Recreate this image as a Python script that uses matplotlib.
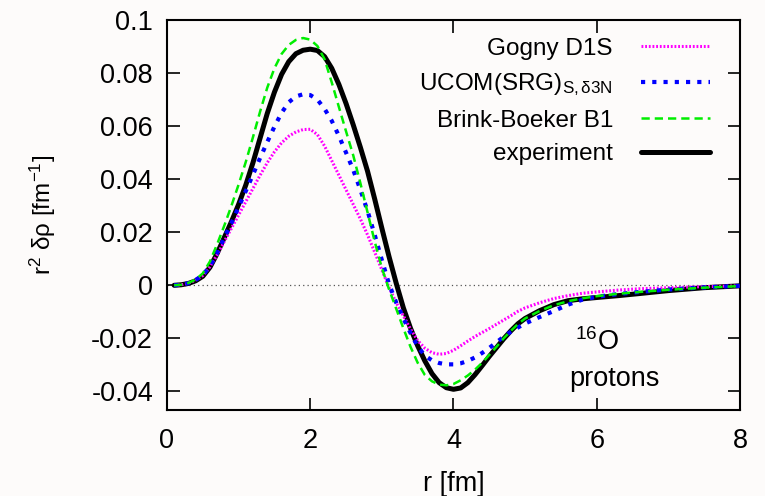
import matplotlib
matplotlib.use("Agg")
import matplotlib.pyplot as plt

plt.rcParams['font.family'] = ['Liberation Sans', 'DejaVu Sans']
plt.rcParams['mathtext.fontset'] = 'custom'
plt.rcParams['mathtext.rm'] = 'Liberation Sans'
plt.rcParams['mathtext.it'] = 'Liberation Sans:italic'
plt.rcParams['mathtext.bf'] = 'Liberation Sans:bold'

# ---------------- data ----------------
r = [0.1, 0.2, 0.3, 0.4, 0.5, 0.6, 0.7, 0.8, 0.9, 1.0,
     1.1, 1.2, 1.3, 1.4, 1.5, 1.6, 1.7, 1.8, 1.9, 2.0,
     2.1, 2.2, 2.3, 2.4, 2.5, 2.6, 2.7, 2.8, 2.9, 3.0,
     3.1, 3.2, 3.3, 3.4, 3.5, 3.6, 3.7, 3.8, 3.9, 4.0,
     4.1, 4.2, 4.3, 4.4, 4.5, 4.6, 4.7, 4.8, 4.9, 5.0,
     5.2, 5.4, 5.6, 5.8, 6.0, 6.3, 6.6, 7.0, 7.5, 8.0]

experiment = [0.0, 0.0002, 0.0007, 0.0017, 0.0034, 0.0068, 0.0120, 0.0180, 0.0240, 0.0305,
              0.0378, 0.0462, 0.0555, 0.0648, 0.0728, 0.0795, 0.0843, 0.0873, 0.0886, 0.0890,
              0.0885, 0.0862, 0.0818, 0.0757, 0.0685, 0.0605, 0.0520, 0.0430, 0.0325, 0.0215,
              0.0108, 0.0008, -0.0085, -0.0162, -0.0228, -0.0285, -0.0333, -0.0367, -0.0386, -0.0392,
              -0.0387, -0.0367, -0.0337, -0.0303, -0.0268, -0.0235, -0.0202, -0.0172, -0.0145, -0.0125,
              -0.0096, -0.0073, -0.0058, -0.0051, -0.0046, -0.0039, -0.0031, -0.0020, -0.0009, -0.0002]

brink_boeker = [0.0, 0.0002, 0.0009, 0.0022, 0.0045, 0.0090, 0.0155, 0.0225, 0.0300, 0.0380,
                0.0465, 0.0558, 0.0655, 0.0745, 0.0818, 0.0872, 0.0906, 0.0925, 0.0932, 0.0926,
                0.0902, 0.0852, 0.0765, 0.0672, 0.0580, 0.0490, 0.0385, 0.0275, 0.0165, 0.0065,
                -0.0015, -0.0088, -0.0162, -0.0232, -0.0292, -0.0338, -0.0362, -0.0374, -0.0377, -0.0372,
                -0.0358, -0.0340, -0.0318, -0.0292, -0.0262, -0.0232, -0.0200, -0.0172, -0.0146, -0.0125,
                -0.0097, -0.0075, -0.0060, -0.0049, -0.0041, -0.0032, -0.0025, -0.0017, -0.0009, -0.0003]

ucom = [0.0, 0.0002, 0.0008, 0.0020, 0.0038, 0.0072, 0.0122, 0.0180, 0.0235, 0.0295,
        0.0355, 0.0417, 0.0480, 0.0540, 0.0598, 0.0650, 0.0690, 0.0712, 0.0720, 0.0717,
        0.0700, 0.0665, 0.0620, 0.0563, 0.0500, 0.0435, 0.0360, 0.0280, 0.0190, 0.0095,
        0.0005, -0.0065, -0.0125, -0.0180, -0.0230, -0.0265, -0.0283, -0.0293, -0.0298, -0.0298,
        -0.0294, -0.0285, -0.0272, -0.0255, -0.0236, -0.0215, -0.0194, -0.0175, -0.0159, -0.0144,
        -0.0120, -0.0097, -0.0073, -0.0054, -0.0043, -0.0033, -0.0025, -0.0016, -0.0008, -0.0002]

gogny = [0.0, 0.0002, 0.0008, 0.0020, 0.0037, 0.0070, 0.0115, 0.0165, 0.0215, 0.0265,
         0.0315, 0.0365, 0.0415, 0.0462, 0.0503, 0.0537, 0.0562, 0.0578, 0.0587, 0.0588,
         0.0568, 0.0525, 0.0470, 0.0415, 0.0360, 0.0305, 0.0250, 0.0190, 0.0125, 0.0058,
         -0.0008, -0.0065, -0.0115, -0.0165, -0.0208, -0.0237, -0.0254, -0.0260, -0.0257, -0.0245,
         -0.0228, -0.0210, -0.0193, -0.0178, -0.0163, -0.0147, -0.0131, -0.0115, -0.0098, -0.0085,
         -0.0066, -0.0050, -0.0039, -0.0030, -0.0025, -0.0018, -0.0013, -0.0009, -0.0005, -0.0002]

labels = ['Gogny D1S', r'UCOM(SRG)$_{\mathrm{S,δ3N}}$', 'Brink-Boeker B1', 'experiment']
xticks = [0, 2, 4, 6, 8]
yticks = [-0.04, -0.02, 0, 0.02, 0.04, 0.06, 0.08, 0.1]
yticklabels = ['-0.04', '-0.02', '0', '0.02', '0.04', '0.06', '0.08', '0.1']

# ---------------- figure ----------------
bg = '#fdfbfa'
fig = plt.figure(figsize=(7.65, 4.96), dpi=100, facecolor=bg)
ax = fig.add_axes([0.2183, 0.1734, 0.749, 0.7863], facecolor=bg)

fs_big = 19.5
fs_leg = 17.5
ax.axhline(0, color='#555555', lw=0.9, ls=(0, (1, 2.5)), zorder=1)

l_exp, = ax.plot(r, experiment, color='black', lw=3.6, solid_capstyle='round', zorder=2)
l_gog, = ax.plot(r, gogny, color='#ff00ff', lw=2.2, ls=(0, (0.6, 0.6)), zorder=3)
l_ucom, = ax.plot(r, ucom, color='#0000ff', lw=3.0, ls=(0, (1.0, 1.7)), zorder=4)
l_bb, = ax.plot(r, brink_boeker, color='#00ee00', lw=1.8, ls=(0, (3.3, 2.0)), zorder=5)

ax.set_xlim(0, 8)
ax.set_ylim(-0.047, 0.1)
ax.set_xticks(xticks)
ax.set_xticklabels([str(v) for v in xticks])
ax.set_yticks(yticks)
ax.set_yticklabels(yticklabels)
ax.tick_params(axis='both', direction='in', length=9, width=1.2, top=True, right=True,
               labelsize=fs_big)
ax.tick_params(axis='x', pad=13)
ax.tick_params(axis='y', pad=10)
for s in ax.spines.values():
    s.set_linewidth(1.5)

ax.set_xlabel('r [fm]', fontsize=fs_big, labelpad=12)
ax.set_ylabel(r'r$^2$ δρ [fm$^{-1}$]', fontsize=fs_leg, labelpad=24)

leg = ax.legend([l_gog, l_ucom, l_bb, l_exp], labels, loc='upper right',
                bbox_to_anchor=(0.965, 0.98), frameon=False, markerfirst=False,
                fontsize=fs_leg, handlelength=2.85, handletextpad=1.15, labelspacing=0.48,
                borderaxespad=0.0)

ax.text(6.0, -0.0215, r'$^{16}$O', fontsize=fs_big, ha='center', va='center')
ax.text(6.24, -0.0355, 'protons', fontsize=fs_big, ha='center', va='center')

fig.savefig('out.png', dpi=100, facecolor=bg)
